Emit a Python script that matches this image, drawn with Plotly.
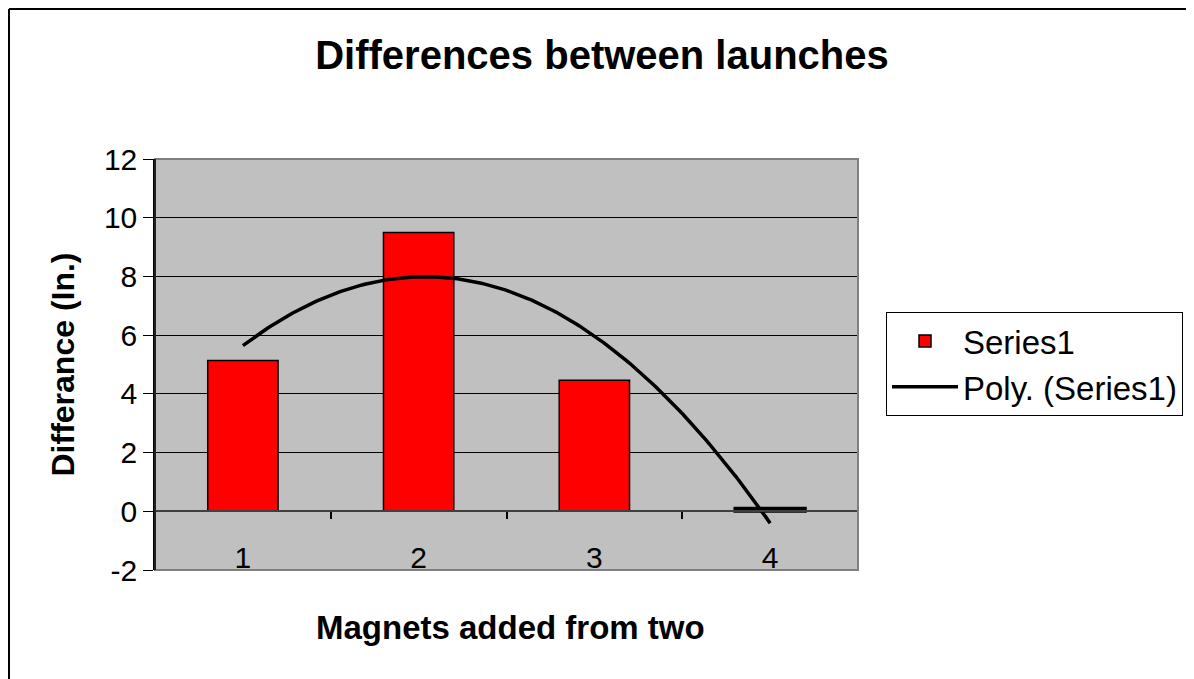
import numpy as np
import plotly.graph_objects as go

categories = [1, 2, 3, 4]
values = [5.14, 9.5, 4.46, 0.1]
cat_labels = ["1", "2", "3", "4"]
y_ticks = [-2, 0, 2, 4, 6, 8, 10, 12]
y_tick_labels = ["-2", "0", "2", "4", "6", "8", "10", "12"]

# polynomial (order 2) trendline of Series1, as Excel's "Poly." trendline
coef = np.polyfit(categories, values, 2)
tx = np.linspace(categories[0], categories[-1], 200)
ty = np.polyval(coef, tx)

fig = go.Figure()
fig.add_trace(go.Bar(
    x=categories, y=values, name="Series1", width=0.4, legendgroup="a",
    marker=dict(color="#FF0000", line=dict(color="black", width=[1.5, 1.5, 1.5, 3])),
))
fig.add_trace(go.Scatter(
    x=tx, y=ty, mode="lines", name="Poly. (Series1)", legendgroup="b",
    line=dict(color="black", width=3.5),
))

# page body has an 8px margin; figure coordinates are screen minus 8
W, H = 1186, 671
L, T = 147, 151
pw, ph = 703, 411
R, B = W - L - pw, H - T - ph

ymin, ymax = -2, 12
fig.update_layout(
    width=W, height=H,
    margin=dict(l=L, r=R, t=T, b=B, autoexpand=False),
    paper_bgcolor="white", plot_bgcolor="#C0C0C0",
    font=dict(family="Liberation Sans, Arial, sans-serif", color="black", size=30),
    title=dict(text="<b>Differences between launches</b>", x=594 / W, xref="container",
               xanchor="center", y=1 - 47 / H, yref="container", yanchor="middle",
               font=dict(size=40)),
    showlegend=True,
    legend=dict(x=(878 - L) / pw, y=1 - (304 - T) / ph, xanchor="left", yanchor="top",
                bgcolor="white", bordercolor="black", borderwidth=1,
                font=dict(size=33), tracegroupgap=0, itemwidth=66,
                traceorder="grouped"),
    bargap=0.6,
)
fig.update_yaxes(
    range=[ymin, ymax], tickvals=y_ticks, ticktext=y_tick_labels, showgrid=True,
    gridcolor="black", gridwidth=1,
    showline=True, linecolor="black", linewidth=1.5, ticks="outside", ticklen=10,
    tickcolor="black", zeroline=False, tickfont=dict(size=30), fixedrange=True,
)
fig.update_xaxes(
    range=[0.5, 4.5], tickvals=categories, ticktext=cat_labels, ticks="", showgrid=False,
    anchor="free", position=(0 - ymin) / (ymax - ymin),
    showline=True, linecolor="#404040", linewidth=1.5, zeroline=False,
    tickfont=dict(size=30), ticklabelstandoff=20,
    minor=dict(tickvals=[0.5, 1.5, 2.5, 3.5, 4.5], ticks="outside", ticklen=7,
               tickcolor="black", tickwidth=1.5, showgrid=False),
)

# plot-area border (gray)
fig.add_shape(type="rect", xref="x domain", yref="y domain", x0=0, x1=1, y0=0, y1=1,
              line=dict(color="#808080", width=2), layer="above")
# redraw left axis line on top
fig.add_shape(type="line", xref="x domain", yref="y domain", x0=0, x1=0, y0=0, y1=1,
              line=dict(color="black", width=1.5), layer="above")

# chart outer border (top and left visible)
bx = (1 - L) / pw
by = 1 + (T - 1) / ph
fig.add_shape(type="line", xref="paper", yref="paper", x0=bx, x1=bx, y0=-B / ph - 0.05, y1=by,
              line=dict(color="black", width=2))
fig.add_shape(type="line", xref="paper", yref="paper", x0=bx, x1=(W - L) / pw + 0.05, y0=by, y1=by,
              line=dict(color="black", width=2))

# axis titles
fig.add_annotation(text="<b>Differance (In.)</b>", xref="paper", yref="paper",
                   x=(54 - L) / pw, y=0.5, textangle=-90, showarrow=False,
                   font=dict(size=32), xanchor="center", yanchor="middle")
fig.add_annotation(text="<b>Magnets added from two</b>", xref="paper", yref="paper",
                   x=(502 - L) / pw, y=-(619 - (H - B)) / ph, showarrow=False,
                   font=dict(size=33), xanchor="center", yanchor="middle")

fig.write_html("out.html")
